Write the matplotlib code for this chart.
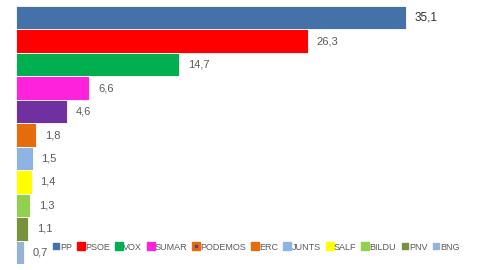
import matplotlib
matplotlib.use("Agg")
import matplotlib.pyplot as plt
from matplotlib.lines import Line2D

parties = ["PP", "PSOE", "VOX", "SUMAR", "PODEMOS", "ERC", "JUNTS", "SALF", "BILDU", "PNV", "BNG"]
votes = [35.1, 26.3, 14.7, 6.6, 4.6, 1.8, 1.5, 1.4, 1.3, 1.1, 0.7]
bar_colors = ["#4472A8", "#FF0000", "#00B050", "#FF22DD", "#7030A0", "#E46C0A",
              "#8DB4E2", "#FFFF00", "#92D050", "#76933C", "#95B3D7"]
legend_colors = ["#4472A8", "#FF0000", "#00B050", "#FF22DD", "#E46C0A", "#E46C0A",
                 "#8DB4E2", "#FFFF00", "#92D050", "#76933C", "#95B3D7"]
legend_sizes = [4, 6, 6, 6, 6, 6, 6, 6, 6, 4, 4]

plt.rcParams["font.family"] = ["Liberation Sans", "DejaVu Sans"]

fig = plt.figure(figsize=(4.8, 2.7), dpi=100)
ax = fig.add_axes([16 / 480, 6 / 270, 444 / 480, 258 / 270])

y = list(range(len(parties)))
ax.barh(y, votes, height=1.0, color=bar_colors, edgecolor="white", linewidth=0.6)
ax.set_ylim(len(parties) - 0.5, -0.5)
ax.set_xlim(0, 40)

for yi, v in zip(y, votes):
    ax.text(v + 0.8, yi, f"{v:.1f}".replace(".", ","), va="center", ha="left",
            fontsize=8.5 if yi == 0 else 8, color="#303030" if yi == 0 else "#595959")

for s in ax.spines.values():
    s.set_visible(False)
ax.set_xticks([])
ax.set_yticks([])

handles = []
for i, (c, ms) in enumerate(zip(legend_colors, legend_sizes)):
    sq = Line2D([], [], marker="s", linestyle="", markersize=ms, color=c)
    if parties[i] == "PODEMOS":
        dot = Line2D([], [], marker="s", linestyle="", markersize=2, color="#7030A0")
        handles.append((sq, dot))
    else:
        handles.append(sq)

fig.legend(handles, parties, loc="center left", bbox_to_anchor=(53 / 480, 1 - 247 / 270),
           ncol=11, frameon=False, fontsize=6.5, handlelength=0.6, handletextpad=0.15,
           columnspacing=0.7, labelcolor="#595959", borderpad=0, borderaxespad=0)

fig.savefig("out.png", dpi=100)
